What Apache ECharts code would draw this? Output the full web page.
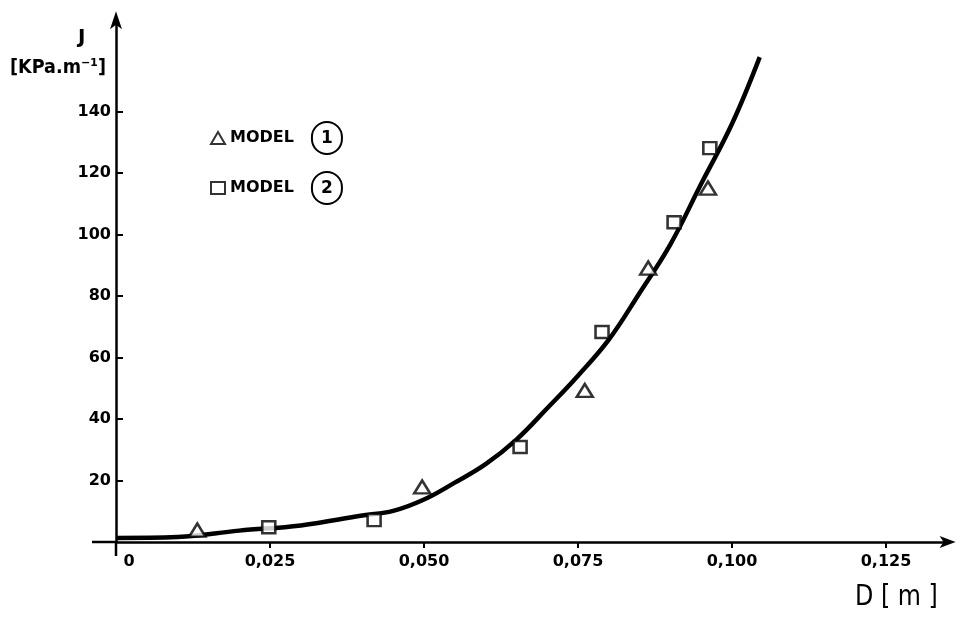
<!DOCTYPE html>
<html><head><meta charset="utf-8">
<script src="https://cdn.jsdelivr.net/npm/echarts@6/dist/echarts.min.js"></script>
<style>html,body{margin:0;padding:0;background:#fff}#c{width:962px;height:622px}</style>
</head><body><div id="c"></div>
<script>
// Model 1 (triangles)
const model1D = [0.0132, 0.0497, 0.0761, 0.0864, 0.0961];
const model1J = [3.9, 17.9, 49.3, 89.1, 115.1];
// Model 2 (squares)
const model2D = [0.0248, 0.0419, 0.0656, 0.0789, 0.0906, 0.0964];
const model2J = [4.8, 7.1, 30.9, 68.3, 104, 128.1];
// Fitted curve
const curveD = [0, 0.01, 0.02, 0.03, 0.04, 0.045, 0.05, 0.055, 0.06, 0.065, 0.07, 0.075, 0.08, 0.085, 0.09, 0.095, 0.1, 0.1045];
const curveJ = [1.3, 1.6, 3.7, 5.4, 8.6, 10.1, 13.8, 19.3, 25.3, 33.3, 43.5, 54.1, 65.8, 81, 96.8, 116.5, 136, 157.7];
const xTicks = [0, 0.025, 0.05, 0.075, 0.1, 0.125];
const yTicks = [20, 40, 60, 80, 100, 120, 140];

const zip = (a, b) => a.map((v, i) => [v, b[i]]);
const FONT = 'DejaVu Sans';
const chart = echarts.init(document.getElementById('c'));
chart.setOption({
  animation: false,
  backgroundColor: '#fff',
  grid: { left: 116, top: 19.25, width: 831.6, bottom: 80, containLabel: false },
  legend: {
    orient: 'vertical', left: 205, top: 116, itemGap: 16, itemWidth: 14, itemHeight: 12,
    data: ['MODEL 1', 'MODEL 2'],
    formatter: n => '{a|MODEL}{c|' + n.slice(-1) + '}',
    textStyle: {
      rich: {
        a: { fontFamily: FONT, fontWeight: 'bold', fontSize: 16, color: '#000', padding: [0, 18, 0, 0] },
        c: { fontFamily: FONT, fontWeight: 'bold', fontSize: 17, color: '#000', borderColor: '#000', borderWidth: 2,
             borderRadius: 16, width: 30, height: 30, lineHeight: 30, align: 'center', padding: [2, 0, 0, 0] }
      }
    }
  },
  xAxis: {
    type: 'value', min: 0, max: 0.135, interval: 0.025,
    splitLine: { show: false },
    axisLine: { lineStyle: { color: '#000', width: 2.5 }, symbol: ['none', 'arrow'], symbolSize: [9, 16], symbolOffset: [0, 8] },
    axisTick: { show: true, length: 6, lineStyle: { color: '#000', width: 2 }, customValues: xTicks },
    axisLabel: {
      customValues: xTicks, margin: 12, color: '#000', fontFamily: FONT, fontWeight: 'bold', fontSize: 16,
      formatter: v => v === 0 ? '{z|0}' : v.toFixed(3).replace('.', ','),
      rich: { z: { fontFamily: FONT, fontWeight: 'bold', fontSize: 16, color: '#000', padding: [0, 0, 0, 26] } }
    }
  },
  yAxis: {
    type: 'value', min: 0, max: 170,
    splitLine: { show: false },
    axisLine: { lineStyle: { color: '#000', width: 2.5 }, symbol: ['none', 'arrow'], symbolSize: [9, 18], symbolOffset: [0, 8] },
    axisTick: { show: true, length: 7, inside: true, lineStyle: { color: '#000', width: 2 }, customValues: yTicks },
    axisLabel: {
      customValues: yTicks, margin: 5, color: '#000', fontFamily: FONT, fontWeight: 'bold', fontSize: 16
    }
  },
  graphic: [
    { type: 'text', left: 78, top: 28, style: { text: 'J', fontFamily: FONT, fontWeight: 'bold', fontSize: 20, fill: '#000' } },
    { type: 'text', x: 10, y: 58, scaleX: 0.88, style: { text: '[KPa.m⁻¹]', fontFamily: FONT, fontWeight: 'bold', fontSize: 20, fill: '#000' } },
    { type: 'text', x: 855, y: 584, scaleX: 0.85, style: { text: 'D [ m ]', fontFamily: FONT, fontSize: 28, fill: '#000' } },
    { type: 'line', shape: { x1: 92, y1: 542, x2: 117, y2: 542 }, style: { stroke: '#000', lineWidth: 2.5 } },
    { type: 'line', shape: { x1: 116, y1: 541, x2: 116, y2: 556 }, style: { stroke: '#000', lineWidth: 2.5 } }
  ],
  series: [
    { name: 'curve', type: 'line', data: zip(curveD, curveJ), smooth: 0.4, showSymbol: false, silent: true,
      lineStyle: { color: '#000', width: 4.5 }, z: 2 },
    { name: 'MODEL 1', type: 'scatter', data: zip(model1D, model1J), symbol: 'triangle', symbolSize: [16, 13],
      itemStyle: { color: '#fff', borderColor: '#000', borderWidth: 2.5 }, z: 3 },
    { name: 'MODEL 2', type: 'scatter', data: zip(model2D, model2J), symbol: 'rect', symbolSize: [13, 12],
      itemStyle: { color: '#fff', borderColor: '#000', borderWidth: 2.5 }, z: 3 }
  ]
});
</script></body></html>
